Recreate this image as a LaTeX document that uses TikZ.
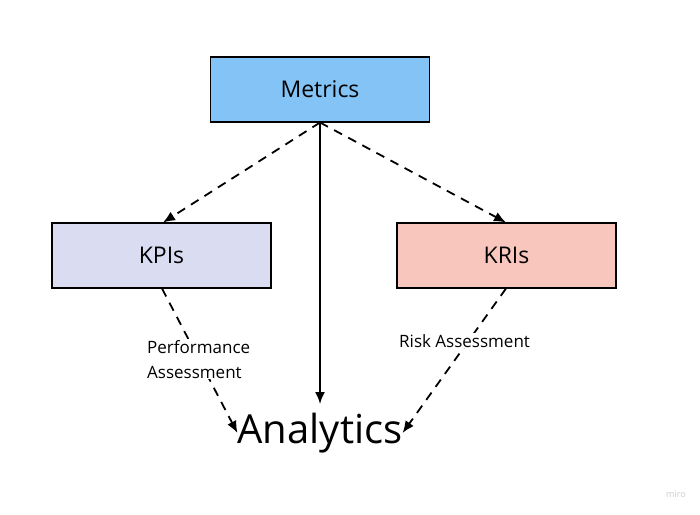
\documentclass[tikz,border=0pt]{standalone}
\usepackage{fontspec}
\setmainfont{Open Sans}
\usetikzlibrary{arrows.meta}
\definecolor{metricsblue}{HTML}{84C3F6}
\definecolor{kpiblue}{HTML}{DADCF1}
\definecolor{krired}{HTML}{F9C6BD}
\tikzset{every node/.style={align=center}, >={Latex[length=12pt,width=10pt]}, font=\fontsize{17}{25}\selectfont}
\tikzset{box/.style={draw, line width=1.2pt, minimum width=219pt, minimum height=65pt, font=\fontsize{23}{27}\selectfont}}
\tikzset{flow/.style={->, line width=1.8pt, dash pattern=on 9pt off 7pt}}
\tikzset{tag/.style={fill=white, inner sep=1pt}}

\begin{document}
\begin{tikzpicture}[x=1pt, y=-1pt]
            \useasboundingbox (0,0) rectangle (700,514);
            \node[box, fill=metricsblue] (metrics) at (320,89.5) {Metrics};
            \node[box, fill=kpiblue] (kpis) at (161.5,255.5) {KPIs};
            \node[box, fill=krired] (kris) at (506.5,255.5) {KRIs};
            \node[font=\fontsize{40}{48}\selectfont, inner sep=0pt] (analytics) at (320,433) {Analytics};
            \coordinate (top) at (320,122.5);
            \path[flow] (top) edge (163,222.5)
                (top) edge (506,222.5);
            \draw[->, line width=1.8pt] (top) -- (320,404);
            \draw[flow] (162,288.5) -- (analytics.west);
            \draw[flow] (506,288.5) -- (analytics.east);
            \node[tag, align=left, anchor=north west] (perf) at (146,339) {Performance\\Assessment};
            \node[tag, anchor=north west] (risk) at (398,333) {Risk Assessment};
            \node[text=black!20, font=\fontsize{9}{11}\selectfont, anchor=east, inner sep=0pt] (miro) at (686,494) {miro};
        \end{tikzpicture}
\end{document}
